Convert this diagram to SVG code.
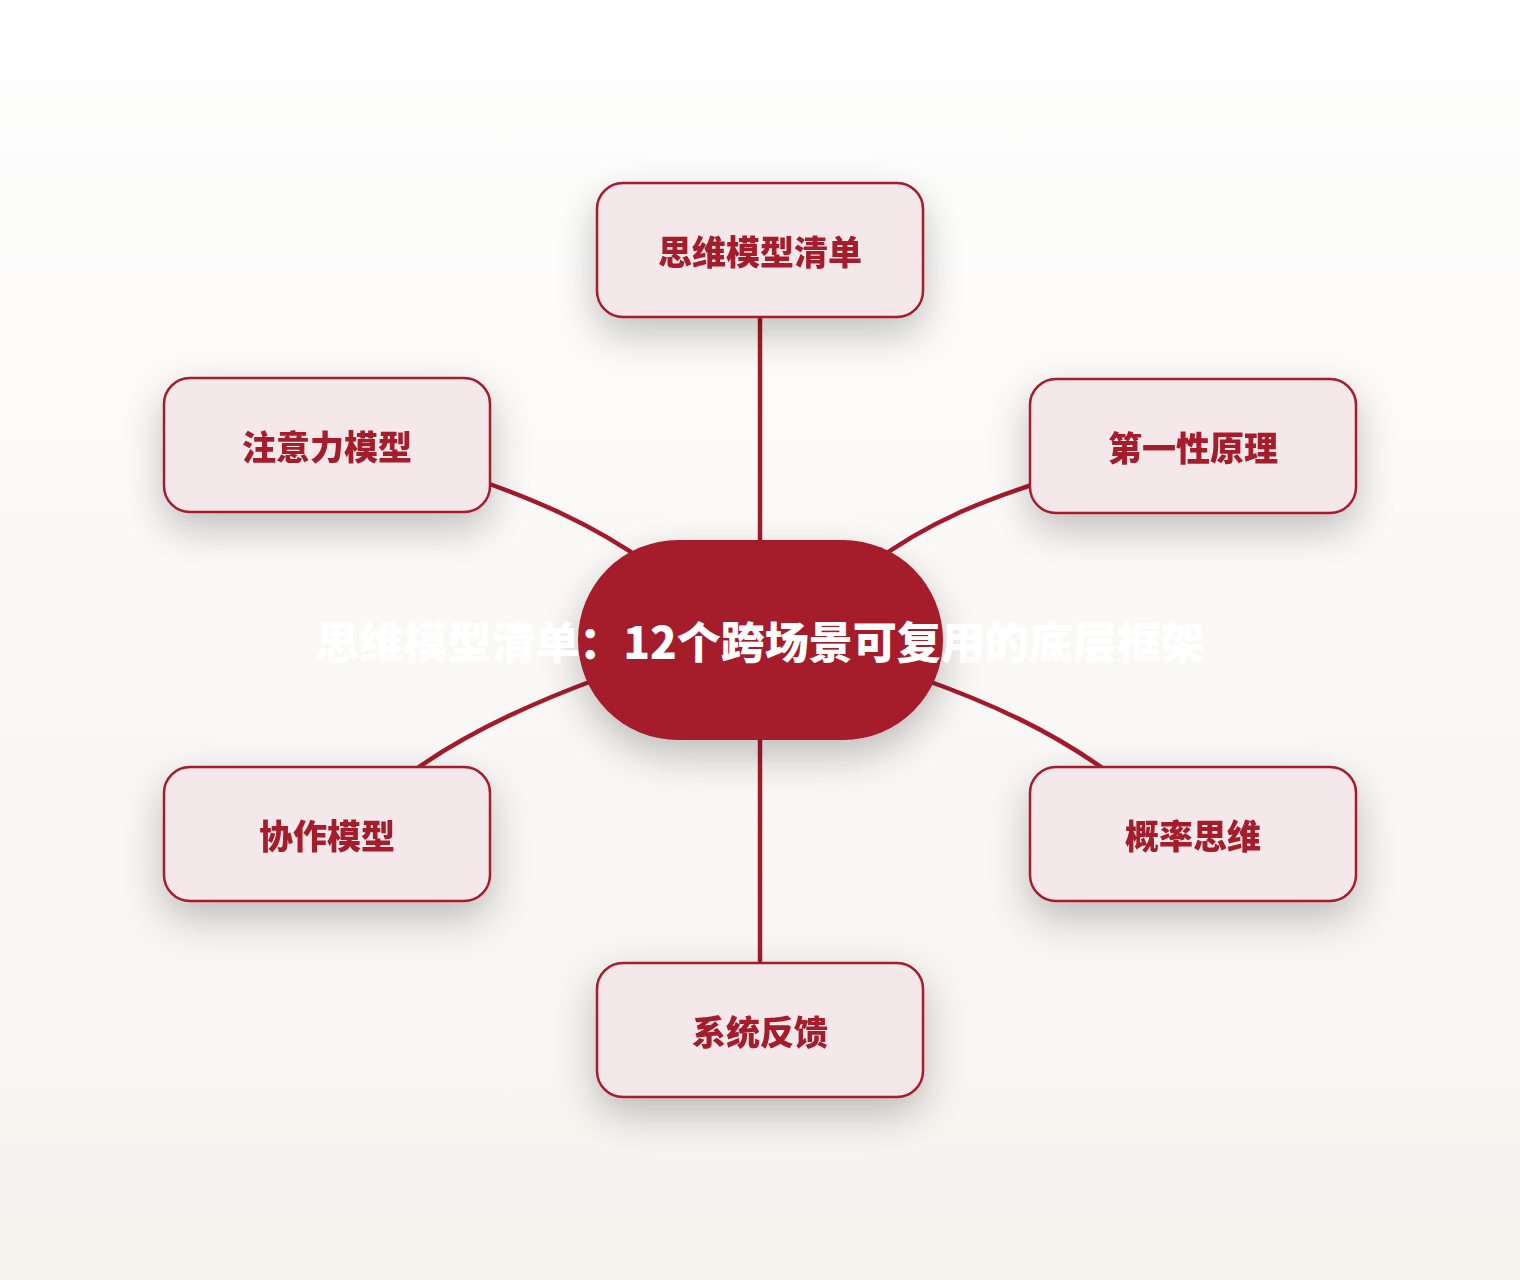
<svg xmlns="http://www.w3.org/2000/svg" width="1520" height="1280" viewBox="0 0 1520 1280">
<defs>
<linearGradient id="bg" x1="0" y1="0" x2="0" y2="1">
<stop offset="0" stop-color="#FEFEFE"/>
<stop offset="1" stop-color="#F6F3EF"/>
</linearGradient>
<filter id="sh" x="-40%" y="-50%" width="180%" height="220%">
<feGaussianBlur in="SourceAlpha" stdDeviation="20"/>
<feOffset dx="0" dy="16" result="b"/>
<feComponentTransfer><feFuncA type="linear" slope="0.24"/></feComponentTransfer>
<feMerge><feMergeNode/><feMergeNode in="SourceGraphic"/></feMerge>
</filter>
<style>
.node rect{fill:#F4E8EA;stroke:#A51A2A;stroke-width:2.5}
.node text{fill:#A51A2A;font-family:"Noto Sans CJK SC","Noto Sans",sans-serif;font-weight:900;font-size:34px;text-anchor:middle}
.edge{fill:none;stroke:#A51A2A;stroke-width:4.5;stroke-linecap:round}
.hub rect{fill:#A51A2A}
.hub text{fill:#FFFFFF;font-family:"Noto Sans CJK SC","Noto Sans",sans-serif;font-weight:900;font-size:44px;text-anchor:middle}
</style>
</defs>
<rect width="1520" height="1280" fill="url(#bg)"/>
<g id="connectors">
<path class="edge" d="M760,300 L760,560"/>
<path class="edge" d="M470,477 C530,498 590,522 650,565"/>
<path class="edge" d="M1050,479 C990,498 930,520 870,565"/>
<path class="edge" d="M600,678 C540,700 470,730 412,772"/>
<path class="edge" d="M920,678 C990,703 1050,730 1108,772"/>
<path class="edge" d="M760,720 L760,980"/>
</g>
<g id="hub" class="hub" filter="url(#sh)">
<rect x="578" y="540" width="365" height="200" rx="100"/>
</g>
<g id="n-top" class="node" filter="url(#sh)">
<rect x="597" y="183" width="326" height="134" rx="26"/>
<text x="760" y="265">思维模型清单</text>
</g>
<g id="n-attention" class="node" filter="url(#sh)">
<rect x="164" y="378" width="326" height="134" rx="26"/>
<text x="327" y="460">注意力模型</text>
</g>
<g id="n-first" class="node" filter="url(#sh)">
<rect x="1030" y="379" width="326" height="134" rx="26"/>
<text x="1193" y="461">第一性原理</text>
</g>
<g id="n-collab" class="node" filter="url(#sh)">
<rect x="164" y="767" width="326" height="134" rx="26"/>
<text x="327" y="849">协作模型</text>
</g>
<g id="n-prob" class="node" filter="url(#sh)">
<rect x="1030" y="767" width="326" height="134" rx="26"/>
<text x="1193" y="849">概率思维</text>
</g>
<g id="n-system" class="node" filter="url(#sh)">
<rect x="597" y="963" width="326" height="134" rx="26"/>
<text x="760" y="1045">系统反馈</text>
</g>
<g id="hub-label" class="hub">
<text x="760" y="659">思维模型清单：12个跨场景可复用的底层框架</text>
</g>
</svg>
